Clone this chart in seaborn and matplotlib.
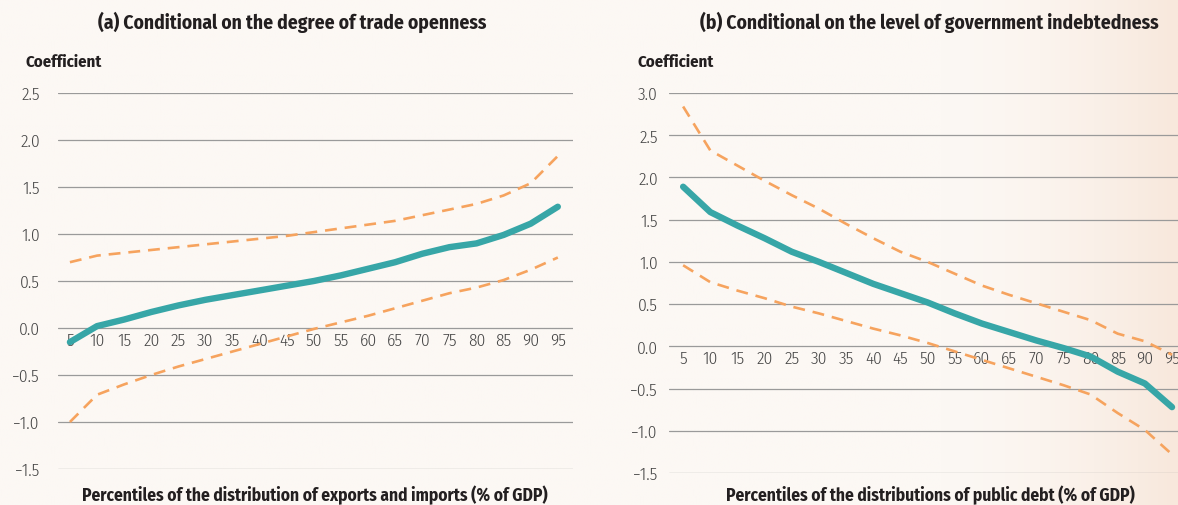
import numpy as np
import pandas as pd
import matplotlib
matplotlib.use("Agg")
import matplotlib.pyplot as plt
import seaborn as sns
from matplotlib.colors import to_rgb

sns.set_style("white")
plt.rcParams['font.family'] = ['Fira Sans Condensed', 'Barlow Semi Condensed', 'Asap Condensed', 'DejaVu Sans']

percentiles = [5, 10, 15, 20, 25, 30, 35, 40, 45, 50, 55, 60, 65, 70, 75, 80, 85, 90, 95]

trade_coef = [-0.15, 0.02, 0.09, 0.17, 0.24, 0.30, 0.35, 0.40, 0.45, 0.50, 0.56, 0.63, 0.70, 0.79, 0.86, 0.90, 0.99, 1.11, 1.29]
trade_upper = [0.70, 0.77, 0.80, 0.83, 0.86, 0.89, 0.92, 0.95, 0.98, 1.02, 1.06, 1.10, 1.14, 1.20, 1.26, 1.32, 1.41, 1.54, 1.83]
trade_lower = [-1.00, -0.71, -0.60, -0.50, -0.41, -0.33, -0.25, -0.17, -0.09, -0.01, 0.06, 0.13, 0.21, 0.29, 0.37, 0.43, 0.51, 0.62, 0.75]

debt_coef = [1.89, 1.59, 1.43, 1.28, 1.12, 1.00, 0.87, 0.74, 0.63, 0.52, 0.39, 0.27, 0.17, 0.07, -0.02, -0.12, -0.30, -0.44, -0.72]
debt_upper = [2.84, 2.32, 2.14, 1.96, 1.79, 1.63, 1.45, 1.28, 1.12, 1.00, 0.86, 0.72, 0.61, 0.51, 0.41, 0.31, 0.15, 0.06, -0.10]
debt_lower = [0.96, 0.76, 0.66, 0.57, 0.47, 0.39, 0.30, 0.21, 0.13, 0.04, -0.06, -0.16, -0.26, -0.36, -0.46, -0.57, -0.79, -0.99, -1.28]

titles = ["(a) Conditional on the degree of trade openness",
          "(b) Conditional on the level of government indebtedness"]
xlabels = ["Percentiles of the distribution of exports and imports (% of GDP)",
           "Percentiles of the distributions of public debt (% of GDP)"]
yticks_a = [-1.5, -1.0, -0.5, 0.0, 0.5, 1.0, 1.5, 2.0, 2.5]
yticks_b = [-1.5, -1.0, -0.5, 0.0, 0.5, 1.0, 1.5, 2.0, 2.5, 3.0]

TEAL = "#37a6a7"
ORANGE = "#f6a35e"
TXT = "#231f20"
TICK = "#444444"
GRID = "#9a9a9a"

W, H = 1178, 506
fig = plt.figure(figsize=(W / 100, H / 100), dpi=100)

# background gradient
bg = fig.add_axes([0, 0, 1, 1], zorder=-10)
c0 = np.array(to_rgb("#fcf8f4"))
c1 = np.array(to_rgb("#f8e8dc"))
xs = np.linspace(0, 1, 400)
t = np.clip((xs - 0.80) / 0.20, 0, 1) ** 1.6
row = c0[None, :] * (1 - t[:, None]) + c1[None, :] * t[:, None]
grad = np.repeat(row[None, :, :], 10, axis=0)
bg.imshow(grad, aspect='auto', extent=[0, 1, 0, 1])
bg.axis('off')


def make_df(coef, upper, lower):
    return pd.DataFrame({
        "pct": percentiles * 3,
        "val": list(coef) + list(upper) + list(lower),
        "series": ["coef"] * len(percentiles) + ["upper"] * len(percentiles) + ["lower"] * len(percentiles),
    })


def fmt(v):
    s = f"{abs(v):.1f}"
    return ("\u2212" + s) if v < 0 else s


def panel(rect, df, ylim, yticks, xlim, title, xlabel, title_x, coef_x, xlabel_x, ylab_pad):
    ax = fig.add_axes(rect)
    ax.set_facecolor('none')
    for s in ["upper", "lower"]:
        sns.lineplot(data=df[df.series == s], x="pct", y="val", ax=ax, color=ORANGE,
                     lw=1.9, zorder=3)
        ax.lines[-1].set_dashes([4.5, 3])
    sns.lineplot(data=df[df.series == "coef"], x="pct", y="val", ax=ax, color=TEAL,
                 lw=4.6, zorder=4)
    ax.lines[-1].set_solid_capstyle('round')
    ax.lines[-1].set_solid_joinstyle('round')
    ax.set_xlim(*xlim)
    ax.set_ylim(*ylim)
    ax.set_yticks(yticks)
    ax.set_yticklabels([fmt(v) for v in yticks])
    ax.set_xticks(percentiles)
    ax.set_xticklabels([str(p) for p in percentiles])
    ax.yaxis.grid(True, color=GRID, lw=0.9)
    ax.set_axisbelow(True)
    for sp in ["top", "right", "left"]:
        ax.spines[sp].set_visible(False)
    ax.spines["bottom"].set_position(("data", 0))
    ax.spines["bottom"].set_visible(False)
    for lab in ax.get_xticklabels() + ax.get_yticklabels():
        lab.set_fontweight(300)
    ax.tick_params(axis='x', length=0, pad=3, labelsize=12.5, labelcolor=TICK)
    ax.tick_params(axis='y', length=0, pad=ylab_pad, labelsize=12.5, labelcolor=TICK)
    ax.set_xlabel("")
    ax.set_ylabel("")
    fig.text(title_x / W, 1 - 22 / H, title, ha='center', va='center',
             fontsize=14, fontweight='bold', color=TXT)
    fig.text(coef_x / W, 1 - 62 / H, "Coefficient", ha='left', va='center',
             fontsize=12, fontweight='bold', color=TXT)
    fig.text(xlabel_x / W, 1 - 495 / H, xlabel, ha='center', va='center',
             fontsize=12.5, fontweight='bold', color=TXT)
    return ax


# panel (a): gridlines x 58..573, y 94 (2.5) .. 470 (-1.5)
panel([58 / W, 36 / H, (573 - 58) / W, (470 - 94) / H],
      make_df(trade_coef, trade_upper, trade_lower),
      (-1.5, 2.5), yticks_a, (2.8, 97.8), titles[0], xlabels[0], 292, 25, 315, 13)

# panel (b): gridlines x 669..1178, y 94 (3.0) .. 474 (-1.5)
panel([669 / W, 32 / H, (W - 669) / W, (474 - 94) / H],
      make_df(debt_coef, debt_upper, debt_lower),
      (-1.5, 3.0), yticks_b, (2.4, 96.1), titles[1], xlabels[1], 929, 638, 930, 8)

fig.savefig("out.png", dpi=100)
